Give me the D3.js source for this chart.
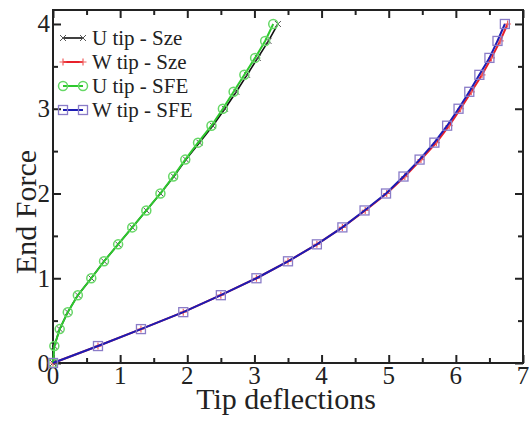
<!DOCTYPE html>
<html>
<head>
<meta charset="utf-8">
<script src="https://cdn.jsdelivr.net/npm/d3@7"></script>
<style>
  body { margin: 0; background: #fff; }
  text { font-family: "Liberation Serif", "Times New Roman", serif; fill: #222; }
</style>
</head>
<body>
<div id="chart"></div>
<script>
// force levels shared by all four series
var force = [0, 0.2, 0.4, 0.6, 0.8, 1.0, 1.2, 1.4, 1.6, 1.8, 2.0,
             2.2, 2.4, 2.6, 2.8, 3.0, 3.2, 3.4, 3.6, 3.8, 4.0];

// tip deflections
var uSze = [0, 0.02, 0.10, 0.22, 0.37, 0.57, 0.76, 0.97, 1.18, 1.39, 1.60,
            1.80, 1.98, 2.18, 2.38, 2.56, 2.73, 2.89, 3.05, 3.21, 3.35];
var wSze = [0, 0.67, 1.31, 1.94, 2.50, 3.03, 3.50, 3.93, 4.31, 4.65, 4.97,
            5.24, 5.48, 5.71, 5.90, 6.07, 6.23, 6.39, 6.53, 6.66, 6.77];
var uSFE = [0, 0.02, 0.10, 0.22, 0.37, 0.57, 0.76, 0.97, 1.18, 1.39, 1.60,
            1.79, 1.97, 2.16, 2.36, 2.53, 2.69, 2.85, 3.01, 3.16, 3.28];
var wSFE = [0, 0.67, 1.31, 1.94, 2.50, 3.03, 3.50, 3.93, 4.31, 4.64, 4.96,
            5.22, 5.46, 5.68, 5.87, 6.04, 6.20, 6.35, 6.50, 6.62, 6.73];

var xTicks = [0, 1, 2, 3, 4, 5, 6, 7];
var yTicks = [0, 1, 2, 3, 4];

var series = [
  {name: "U tip - Sze", vals: uSze, color: "#111", width: 1.6, mark: "x"},
  {name: "W tip - Sze", vals: wSze, color: "#e8202a", width: 2, mark: "plus"},
  {name: "U tip - SFE", vals: uSFE, color: "#2ec82e", width: 2, mark: "circle"},
  {name: "W tip - SFE", vals: wSFE, color: "#1c1cb4", width: 2, mark: "square"}
];

var width = 529, height = 421;
var pLeft = 53, pRight = 523, pTop = 10, pBottom = 363;

var svg = d3.select("#chart").append("svg")
    .attr("width", width)
    .attr("height", height);

var x = d3.scaleLinear().domain([0, 7]).range([pLeft, pRight]);
var y = d3.scaleLinear().domain([0, 4.165]).range([pBottom, pTop]);

// frame
svg.append("rect")
    .attr("x", pLeft).attr("y", pTop)
    .attr("width", pRight - pLeft).attr("height", pBottom - pTop)
    .attr("fill", "none").attr("stroke", "#222").attr("stroke-width", 2);

// ticks pointing inwards on all four sides
var xMinor = d3.range(0.5, 7, 1);
var yMinor = d3.range(0.5, 4.1, 1);

svg.append("g").attr("transform", "translate(0," + pBottom + ")")
    .call(d3.axisTop(x).tickValues(xTicks).tickSize(8).tickFormat(""));
svg.append("g").attr("transform", "translate(0," + pBottom + ")")
    .call(d3.axisTop(x).tickValues(xMinor).tickSize(5).tickFormat(""));
svg.append("g").attr("transform", "translate(0," + pTop + ")")
    .call(d3.axisBottom(x).tickValues(xTicks).tickSize(8).tickFormat(""));
svg.append("g").attr("transform", "translate(0," + pTop + ")")
    .call(d3.axisBottom(x).tickValues(xMinor).tickSize(5).tickFormat(""));
svg.append("g").attr("transform", "translate(" + pLeft + ",0)")
    .call(d3.axisRight(y).tickValues(yTicks).tickSize(8).tickFormat(""));
svg.append("g").attr("transform", "translate(" + pLeft + ",0)")
    .call(d3.axisRight(y).tickValues(yMinor).tickSize(5).tickFormat(""));
svg.append("g").attr("transform", "translate(" + pRight + ",0)")
    .call(d3.axisLeft(y).tickValues(yTicks).tickSize(8).tickFormat(""));
svg.append("g").attr("transform", "translate(" + pRight + ",0)")
    .call(d3.axisLeft(y).tickValues(yMinor).tickSize(5).tickFormat(""));

svg.selectAll(".domain").remove();
svg.selectAll(".tick line").attr("stroke", "#222").attr("stroke-width", 2);

// tick labels
svg.selectAll(".xlab").data(xTicks).enter().append("text")
    .attr("class", "xlab")
    .attr("x", function(d) { return x(d); })
    .attr("y", 384)
    .attr("text-anchor", "middle")
    .style("font-size", "25px")
    .text(function(d) { return d; });

svg.selectAll(".ylab").data(yTicks).enter().append("text")
    .attr("class", "ylab")
    .attr("x", 50)
    .attr("y", function(d) { return y(d) + 8.5; })
    .attr("text-anchor", "end")
    .style("font-size", "25px")
    .text(function(d) { return d; });

// axis titles
svg.append("text")
    .attr("x", 286)
    .attr("y", 409)
    .attr("text-anchor", "middle")
    .style("font-size", "30px")
    .text("Tip deflections");

svg.append("text")
    .attr("transform", "translate(36," + 212 + ") rotate(-90)")
    .attr("text-anchor", "middle")
    .style("font-size", "30px")
    .text("End Force");

var line = d3.line()
    .x(function(d) { return x(d[0]); })
    .y(function(d) { return y(d[1]); });

function drawMark(g, kind) {
  if (kind == "x") {
    g.append("path").attr("d", "M-3,-3L3,3M-3,3L3,-3")
      .attr("stroke", "#555").attr("stroke-width", 1).attr("fill", "none");
  } else if (kind == "plus") {
    g.append("path").attr("d", "M-3.5,0L3.5,0M0,-3.5L0,3.5")
      .attr("stroke", "#f06060").attr("stroke-width", 1.2).attr("fill", "none");
  } else if (kind == "circle") {
    g.append("circle").attr("r", 4.5)
      .attr("fill", "none").attr("stroke", "#66d866").attr("stroke-width", 1.5);
  } else {
    g.append("rect").attr("x", -4.5).attr("y", -4.5).attr("width", 9).attr("height", 9)
      .attr("fill", "none").attr("stroke", "#8a7cc8").attr("stroke-width", 1.3);
  }
}

// draw order: Sze first, SFE on top
series.forEach(function(s) {
  var pts = s.vals.map(function(v, i) { return [v, force[i]]; });
  svg.append("path")
      .datum(pts)
      .attr("d", line)
      .attr("fill", "none")
      .attr("stroke", s.color)
      .attr("stroke-width", s.width);
  svg.selectAll(null).data(pts).enter().append("g")
      .attr("transform", function(d) { return "translate(" + x(d[0]) + "," + y(d[1]) + ")"; })
      .each(function() { drawMark(d3.select(this), s.mark); });
});

// legend
var leg = svg.append("g");
series.forEach(function(s, i) {
  var ly = 38 + i * 24;
  leg.append("line")
      .attr("x1", 63).attr("x2", 83).attr("y1", ly).attr("y2", ly)
      .attr("stroke", s.color).attr("stroke-width", s.width);
  [63, 83].forEach(function(px) {
    var g = leg.append("g").attr("transform", "translate(" + px + "," + ly + ")");
    drawMark(g, s.mark);
  });
  leg.append("text")
      .attr("x", 92)
      .attr("y", ly + 7)
      .style("font-size", "21px")
      .text(s.name);
});
</script>
</body>
</html>
